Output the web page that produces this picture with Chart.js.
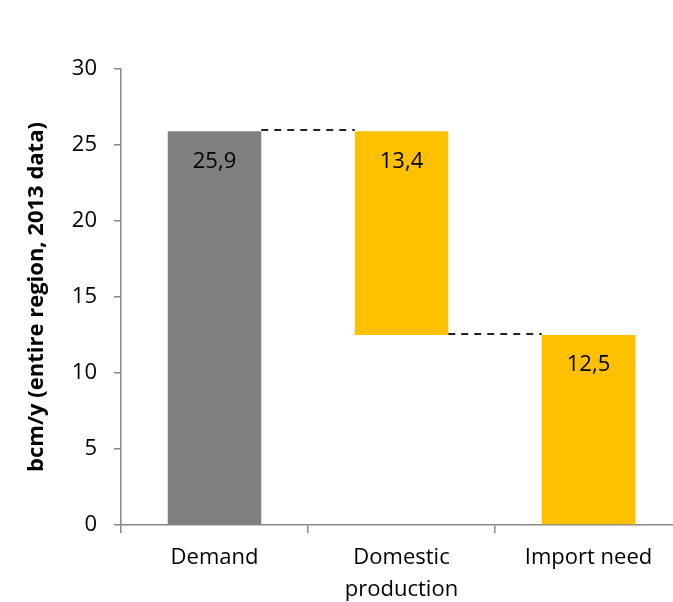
<!DOCTYPE html>
<html lang="en">
<head>
    <meta charset="utf-8" />
    <title>Gas balance</title>
    <script src="https://cdn.jsdelivr.net/npm/chart.js"></script>
    <style>
        html, body { margin: 0; padding: 0; background: #fff; overflow: hidden; }
        #wrap { width: 700px; height: 602px; }
    </style>
</head>
<body>
    <div id="wrap"><canvas id="balanceChart" width="700" height="602"></canvas></div>

    <script>
        // waterfall steps: demand, then what is covered domestically, then what remains to import
        const categories = [['Demand'], ['Domestic', 'production'], ['Import need']];
        const stepValues = [25.9, 13.4, 12.5];
        const stepColors = ['#808080', '#FFC000', '#FFC000'];
        const yTicks = [0, 5, 10, 15, 20, 25, 30];

        // floating ranges: demand from 0, domestic hangs down from demand, import sits on 0
        const ranges = [
            [0, stepValues[0]],
            [stepValues[0] - stepValues[1], stepValues[0]],
            [0, stepValues[2]]
        ];
        // level left after each step, used for dashed connectors
        const levels = [stepValues[0], stepValues[0] - stepValues[1]];

        const fontFamily = '"Open Sans", "Noto Sans", sans-serif';

        const connectors = {
            id: 'connectors',
            afterDatasetsDraw(chart) {
                const ctx = chart.ctx;
                const bars = chart.getDatasetMeta(0).data;
                const y = chart.scales.y;
                ctx.save();
                ctx.strokeStyle = '#222';
                ctx.lineWidth = 2;
                ctx.setLineDash([7, 6]);
                levels.forEach((lv, i) => {
                    const a = bars[i], b = bars[i + 1];
                    const py = Math.round(y.getPixelForValue(lv)) - 1;
                    ctx.beginPath();
                    ctx.moveTo(a.x + a.width / 2, py);
                    ctx.lineTo(b.x - b.width / 2, py);
                    ctx.stroke();
                });
                ctx.restore();
            }
        };

        const valueLabels = {
            id: 'valueLabels',
            afterDatasetsDraw(chart) {
                const ctx = chart.ctx;
                const bars = chart.getDatasetMeta(0).data;
                ctx.save();
                ctx.fillStyle = '#000';
                ctx.font = '22px ' + fontFamily;
                ctx.textAlign = 'center';
                ctx.textBaseline = 'middle';
                bars.forEach((bar, i) => {
                    const top = Math.min(bar.y, bar.base);
                    ctx.fillText(stepValues[i].toFixed(1).replace('.', ','), bar.x, top + 30);
                });
                ctx.restore();
            }
        };

        new Chart(document.getElementById('balanceChart'), {
            type: 'bar',
            data: {
                labels: categories,
                datasets: [{
                    data: ranges,
                    backgroundColor: stepColors,
                    borderWidth: 0,
                    categoryPercentage: 1,
                    barPercentage: 0.5
                }]
            },
            options: {
                responsive: false,
                animation: false,
                layout: { padding: { top: 69, right: 18, left: 0, bottom: 0 } },
                plugins: {
                    legend: { display: false },
                    tooltip: { enabled: false }
                },
                scales: {
                    x: {
                        grid: {
                            offset: true,
                            drawOnChartArea: false,
                            drawTicks: true,
                            tickLength: 8,
                            color: '#888',
                            lineWidth: 1.5
                        },
                        border: { color: '#888', width: 1.5 },
                        ticks: {
                            color: '#000',
                            padding: 9,
                            font: { family: fontFamily, size: 22, lineHeight: 1.45 }
                        },
                        afterFit(s) { s.height = 77; }
                    },
                    y: {
                        min: 0,
                        max: 30,
                        afterBuildTicks(s) { s.ticks = yTicks.map(v => ({ value: v })); },
                        grid: {
                            drawOnChartArea: false,
                            drawTicks: true,
                            tickLength: 7,
                            color: '#888',
                            lineWidth: 1.5
                        },
                        border: { color: '#888', width: 1.5 },
                        ticks: {
                            color: '#000',
                            padding: 17,
                            font: { family: fontFamily, size: 22 }
                        },
                        title: {
                            display: true,
                            text: 'bcm/y (entire region, 2013 data)',
                            color: '#000',
                            padding: { top: 24, bottom: 0 },
                            font: { family: fontFamily, size: 22, weight: 'bold' }
                        },
                        afterFit(s) { s.width = 121; }
                    }
                }
            },
            plugins: [connectors, valueLabels]
        });
    </script>
</body>
</html>
